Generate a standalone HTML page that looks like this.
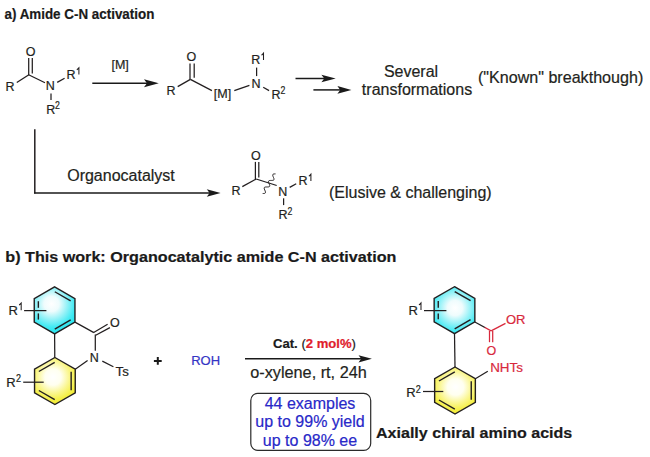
<!DOCTYPE html>
<html><head><meta charset="utf-8"><style>
html,body{margin:0;padding:0;background:#fff;width:650px;height:457px;overflow:hidden}
svg{display:block}
text{font-family:"Liberation Sans",sans-serif;stroke-width:0.2px;}
</style></head><body>
<svg width="650" height="457" viewBox="0 0 650 457">
<defs><radialGradient id="gc" gradientUnits="userSpaceOnUse" cx="51.5" cy="304" r="27"><stop offset="0" stop-color="#ffffff"/><stop offset="0.28" stop-color="#effcfd"/><stop offset="0.6" stop-color="#8ef1f7"/><stop offset="0.85" stop-color="#42eaf3"/><stop offset="1" stop-color="#2ee6f0"/></radialGradient><radialGradient id="gc2" gradientUnits="userSpaceOnUse" cx="455" cy="308" r="27"><stop offset="0" stop-color="#ffffff"/><stop offset="0.28" stop-color="#effcfd"/><stop offset="0.6" stop-color="#8ef1f7"/><stop offset="0.85" stop-color="#42eaf3"/><stop offset="1" stop-color="#2ee6f0"/></radialGradient><radialGradient id="gy" gradientUnits="userSpaceOnUse" cx="53" cy="377" r="27"><stop offset="0" stop-color="#ffffff"/><stop offset="0.3" stop-color="#fffff0"/><stop offset="0.6" stop-color="#faf68e"/><stop offset="0.85" stop-color="#f5f046"/><stop offset="1" stop-color="#f2eb34"/></radialGradient><radialGradient id="gy2" gradientUnits="userSpaceOnUse" cx="455.5" cy="387" r="27"><stop offset="0" stop-color="#ffffff"/><stop offset="0.3" stop-color="#fffff0"/><stop offset="0.6" stop-color="#faf68e"/><stop offset="0.85" stop-color="#f5f046"/><stop offset="1" stop-color="#f2eb34"/></radialGradient><linearGradient id="gbr" gradientUnits="userSpaceOnUse" x1="474.85" y1="321.95" x2="491.1" y2="330.9"><stop offset="0.55" stop-color="#231f20"/><stop offset="0.68" stop-color="#d8283c"/></linearGradient></defs>
<rect width="650" height="457" fill="#fff"/>
<text transform="translate(4.5,18.8) scale(0.893,1)" font-size="15" font-weight="bold" fill="#1a1a1a" stroke="#1a1a1a">a) Amide C-N activation</text>
<text x="30.7" y="55.8" font-size="12.5" text-anchor="middle" font-weight="normal" fill="#231f20" stroke="#231f20" >O</text>
<line x1="28.70" y1="58.00" x2="28.70" y2="75.00" stroke="#231f20" stroke-width="1.25"/>
<line x1="32.30" y1="58.00" x2="32.30" y2="73.60" stroke="#231f20" stroke-width="1.25"/>
<line x1="28.90" y1="74.70" x2="16.80" y2="82.60" stroke="#231f20" stroke-width="1.25"/>
<line x1="28.60" y1="74.70" x2="45.00" y2="82.70" stroke="#231f20" stroke-width="1.25"/>
<text x="5.6" y="90.9" font-size="12.5" text-anchor="start" font-weight="normal" fill="#231f20" stroke="#231f20" >R</text>
<text x="50.3" y="90.4" font-size="12.5" text-anchor="middle" font-weight="normal" fill="#231f20" stroke="#231f20" >N</text>
<line x1="57.20" y1="82.40" x2="64.60" y2="78.30" stroke="#231f20" stroke-width="1.25"/>
<text x="66.6" y="78.8" font-size="12.5" text-anchor="start" font-weight="normal" fill="#231f20" stroke="#231f20" >R</text>
<path d="M78.90,74.60 L78.90,67.80 L78.10,68.70 Q77.60,69.30 76.80,69.70" fill="none" stroke="#231f20" stroke-width="1.05"/>
<line x1="51.00" y1="93.60" x2="51.00" y2="99.90" stroke="#231f20" stroke-width="1.25"/>
<text x="46.2" y="113.9" font-size="12.5" text-anchor="start" font-weight="normal" fill="#231f20" stroke="#231f20" >R</text>
<text transform="translate(55.10,109.00) scale(0.84,1)" font-size="10.40" fill="#231f20" stroke="#231f20">2</text>
<text x="120.1" y="69.1" font-size="12.5" text-anchor="middle" font-weight="normal" fill="#231f20" stroke="#231f20" >[M]</text>
<line x1="92.3" y1="83.3" x2="147.96" y2="83.3" stroke="#1a1a1a" stroke-width="1.5"/>
<path d="M158.8,83.3 L144,79.30 L146.96,83.3 L144,87.30 Z" fill="#1a1a1a"/>
<text x="191.3" y="60.9" font-size="12.5" text-anchor="middle" font-weight="normal" fill="#231f20" stroke="#231f20" >O</text>
<line x1="190.00" y1="63.60" x2="190.00" y2="79.60" stroke="#231f20" stroke-width="1.25"/>
<line x1="194.20" y1="63.60" x2="194.20" y2="77.80" stroke="#231f20" stroke-width="1.25"/>
<line x1="190.40" y1="79.40" x2="177.70" y2="86.60" stroke="#231f20" stroke-width="1.25"/>
<line x1="190.40" y1="79.40" x2="211.90" y2="90.60" stroke="#231f20" stroke-width="1.25"/>
<text x="166.6" y="95.4" font-size="12.5" text-anchor="start" font-weight="normal" fill="#231f20" stroke="#231f20" >R</text>
<text x="222.5" y="97.9" font-size="12.5" text-anchor="middle" font-weight="normal" fill="#231f20" stroke="#231f20" >[M]</text>
<line x1="234.30" y1="90.60" x2="249.40" y2="85.30" stroke="#231f20" stroke-width="1.25"/>
<text x="255.9" y="88.1" font-size="12.5" text-anchor="middle" font-weight="normal" fill="#231f20" stroke="#231f20" >N</text>
<line x1="256.60" y1="67.60" x2="256.60" y2="76.10" stroke="#231f20" stroke-width="1.25"/>
<text x="251.2" y="64.2" font-size="12.5" text-anchor="start" font-weight="normal" fill="#231f20" stroke="#231f20" >R</text>
<path d="M263.50,60.00 L263.50,53.20 L262.70,54.10 Q262.20,54.70 261.40,55.10" fill="none" stroke="#231f20" stroke-width="1.05"/>
<line x1="263.20" y1="87.30" x2="269.10" y2="90.60" stroke="#231f20" stroke-width="1.25"/>
<text x="271.6" y="99.2" font-size="12.5" text-anchor="start" font-weight="normal" fill="#231f20" stroke="#231f20" >R</text>
<text transform="translate(280.50,94.30) scale(0.84,1)" font-size="10.40" fill="#231f20" stroke="#231f20">2</text>
<line x1="295.5" y1="78.5" x2="325.26" y2="78.5" stroke="#1a1a1a" stroke-width="1.5"/>
<path d="M335.7,78.5 L321.4,74.70 L324.26,78.5 L321.4,82.30 Z" fill="#1a1a1a"/>
<line x1="313.4" y1="89.9" x2="341.2" y2="89.9" stroke="#1a1a1a" stroke-width="1.5"/>
<path d="M351.4,89.9 L337.4,86.10 L340.20,89.9 L337.4,93.70 Z" fill="#1a1a1a"/>
<text x="411" y="76.6" font-size="16" text-anchor="middle" font-weight="normal" fill="#231f20" stroke="#231f20" >Several</text>
<text x="417" y="94.9" font-size="16" text-anchor="middle" font-weight="normal" fill="#231f20" stroke="#231f20" >transformations</text>
<text x="560.6" y="83.1" font-size="16.1" text-anchor="middle" font-weight="normal" fill="#231f20" stroke="#231f20" >("Known" breakthough)</text>
<line x1="34.80" y1="129.30" x2="34.80" y2="193.60" stroke="#231f20" stroke-width="1.5"/>
<line x1="34.05" y1="193" x2="210.56" y2="193" stroke="#1a1a1a" stroke-width="1.5"/>
<path d="M220.6,193 L206.8,189.20 L209.56,193 L206.8,196.80 Z" fill="#1a1a1a"/>
<text x="121.0" y="181.3" font-size="16" text-anchor="middle" font-weight="normal" fill="#231f20" stroke="#231f20" >Organocatalyst</text>
<text x="255.9" y="159.6" font-size="12.5" text-anchor="middle" font-weight="normal" fill="#231f20" stroke="#231f20" >O</text>
<line x1="255.40" y1="161.90" x2="255.40" y2="179.20" stroke="#231f20" stroke-width="1.25"/>
<line x1="258.80" y1="161.90" x2="258.80" y2="177.50" stroke="#231f20" stroke-width="1.25"/>
<line x1="256.20" y1="179.00" x2="242.30" y2="186.60" stroke="#231f20" stroke-width="1.25"/>
<line x1="256.20" y1="179.00" x2="276.70" y2="185.50" stroke="#231f20" stroke-width="1.25"/>
<polyline points="275.50,173.90 274.46,173.92 273.57,174.04 272.97,174.34 272.71,174.87 272.78,175.62 273.09,176.52 273.51,177.49 273.88,178.43 274.04,179.24 273.89,179.84 273.40,180.22 272.60,180.39 271.59,180.43 270.53,180.44 269.58,180.52 268.87,180.75 268.49,181.20 268.45,181.88 268.70,182.74 269.10,183.70 269.50,184.66 269.75,185.52 269.71,186.20 269.33,186.65 268.62,186.88 267.67,186.96 266.61,186.97 265.60,187.01 264.80,187.18 264.31,187.56 264.16,188.16 264.32,188.97 264.69,189.91 265.11,190.88 265.42,191.78 265.49,192.53 265.23,193.06 264.63,193.36 263.74,193.48 262.70,193.50" fill="none" stroke="#231f20" stroke-width="1"/>
<text x="231.5" y="194.9" font-size="12.5" text-anchor="start" font-weight="normal" fill="#231f20" stroke="#231f20" >R</text>
<text x="282.8" y="195.9" font-size="12.5" text-anchor="middle" font-weight="normal" fill="#231f20" stroke="#231f20" >N</text>
<line x1="289.70" y1="187.40" x2="296.20" y2="183.70" stroke="#231f20" stroke-width="1.25"/>
<text x="298.6" y="185.2" font-size="12.5" text-anchor="start" font-weight="normal" fill="#231f20" stroke="#231f20" >R</text>
<path d="M310.90,181.00 L310.90,174.20 L310.10,175.10 Q309.60,175.70 308.80,176.10" fill="none" stroke="#231f20" stroke-width="1.05"/>
<line x1="283.60" y1="198.30" x2="283.60" y2="205.10" stroke="#231f20" stroke-width="1.25"/>
<text x="278.6" y="219.1" font-size="12.5" text-anchor="start" font-weight="normal" fill="#231f20" stroke="#231f20" >R</text>
<text transform="translate(287.50,214.50) scale(0.84,1)" font-size="10.40" fill="#231f20" stroke="#231f20">2</text>
<text x="410.3" y="198.2" font-size="16" text-anchor="middle" font-weight="normal" fill="#231f20" stroke="#231f20" >(Elusive &amp; challenging)</text>
<text transform="translate(5.3,261.7) scale(1.063,1)" font-size="15.2" font-weight="bold" fill="#1a1a1a" stroke="#1a1a1a">b) This work: Organocatalytic amide C-N activation</text>
<path d="M54.60,286.90 L74.95,298.65 L74.95,322.15 L54.60,333.90 L34.25,322.15 L34.25,298.65 Z" fill="url(#gc)" stroke="#231f20" stroke-width="1.4" stroke-linejoin="miter"/>
<line x1="54.79" y1="291.74" x2="70.66" y2="300.91" stroke="#231f20" stroke-width="1.4"/>
<line x1="70.66" y1="319.89" x2="54.79" y2="329.06" stroke="#231f20" stroke-width="1.4"/>
<line x1="38.35" y1="301.23" x2="38.35" y2="307.80" stroke="#231f20" stroke-width="1.4"/>
<line x1="38.35" y1="313.40" x2="38.35" y2="319.56" stroke="#231f20" stroke-width="1.4"/>
<line x1="24.10" y1="310.60" x2="46.40" y2="310.60" stroke="#231f20" stroke-width="1.25"/>
<text x="8.4" y="314.8" font-size="13" text-anchor="start" font-weight="normal" fill="#231f20" stroke="#231f20" >R</text>
<path d="M21.19,310.13 L21.19,303.06 L20.39,303.96 Q19.89,304.56 19.09,304.96" fill="none" stroke="#231f20" stroke-width="1.05"/>
<line x1="74.95" y1="322.15" x2="93.90" y2="332.60" stroke="#231f20" stroke-width="1.25"/>
<line x1="93.70" y1="332.50" x2="107.60" y2="324.20" stroke="#231f20" stroke-width="1.25"/>
<line x1="95.70" y1="335.30" x2="109.90" y2="327.60" stroke="#231f20" stroke-width="1.25"/>
<text x="114.8" y="327.0" font-size="12.5" text-anchor="middle" font-weight="normal" fill="#231f20" stroke="#231f20" >O</text>
<line x1="95.30" y1="334.60" x2="95.30" y2="350.80" stroke="#231f20" stroke-width="1.25"/>
<text x="94.25" y="362.3" font-size="12.5" text-anchor="middle" font-weight="normal" fill="#231f20" stroke="#231f20" >N</text>
<line x1="102.30" y1="361.10" x2="113.40" y2="366.80" stroke="#231f20" stroke-width="1.25"/>
<text x="115.6" y="375.9" font-size="13.2" text-anchor="start" font-weight="normal" fill="#231f20" stroke="#231f20" >Ts</text>
<line x1="87.60" y1="360.40" x2="75.25" y2="369.25" stroke="#231f20" stroke-width="1.25"/>
<line x1="54.60" y1="333.90" x2="54.80" y2="357.50" stroke="#231f20" stroke-width="1.25"/>
<path d="M54.90,357.50 L75.25,369.25 L75.25,392.75 L54.90,404.50 L34.55,392.75 L34.55,369.25 Z" fill="url(#gy)" stroke="#231f20" stroke-width="1.4" stroke-linejoin="miter"/>
<line x1="38.84" y1="371.51" x2="54.71" y2="362.34" stroke="#231f20" stroke-width="1.4"/>
<line x1="71.15" y1="371.83" x2="71.15" y2="390.17" stroke="#231f20" stroke-width="1.4"/>
<line x1="54.71" y1="399.66" x2="38.84" y2="390.49" stroke="#231f20" stroke-width="1.4"/>
<line x1="23.20" y1="382.20" x2="43.70" y2="382.20" stroke="#231f20" stroke-width="1.25"/>
<text x="6.3" y="387.0" font-size="13" text-anchor="start" font-weight="normal" fill="#231f20" stroke="#231f20" >R</text>
<text transform="translate(15.88,381.90) scale(0.84,1)" font-size="10.82" fill="#231f20" stroke="#231f20">2</text>
<path d="M153.9,360.9 H161.7 M157.8,357 V364.8" stroke="#1a1a1a" stroke-width="2"/>
<text x="205.6" y="365" font-size="13" text-anchor="middle" font-weight="normal" fill="#3434c4" stroke="#3434c4" >ROH</text>
<line x1="245" y1="358.8" x2="362.18" y2="358.8" stroke="#1a1a1a" stroke-width="1.5"/>
<path d="M371.9,358.8 L358.5,355.20 L361.18,358.8 L358.5,362.40 Z" fill="#1a1a1a"/>
<text x="273.0" y="348.3" font-size="13.1" fill="#1a1a1a" stroke="#1a1a1a"><tspan font-weight="bold">Cat.</tspan> (<tspan font-weight="bold" fill="#e0202c" stroke="#e0202c">2 mol%</tspan>)</text>
<text x="308.5" y="377.6" font-size="16.25" text-anchor="middle" font-weight="normal" fill="#231f20" stroke="#231f20" >o-xylene, rt, 24h</text>
<rect x="250.8" y="393.4" width="119.9" height="57" rx="7" ry="7" fill="none" stroke="#2a2a2a" stroke-width="1.2"/>
<text x="310" y="408.7" font-size="16" text-anchor="middle" font-weight="normal" fill="#2828c8" stroke="#2828c8" >44 examples</text>
<text x="310" y="427" font-size="16" text-anchor="middle" font-weight="normal" fill="#2828c8" stroke="#2828c8" >up to 99% yield</text>
<text x="310" y="446.1" font-size="16" text-anchor="middle" font-weight="normal" fill="#2828c8" stroke="#2828c8" >up to 98% ee</text>
<path d="M454.50,286.70 L474.85,298.45 L474.85,321.95 L454.50,333.70 L434.15,321.95 L434.15,298.45 Z" fill="url(#gc2)" stroke="#231f20" stroke-width="1.4" stroke-linejoin="miter"/>
<line x1="454.69" y1="291.54" x2="470.56" y2="300.71" stroke="#231f20" stroke-width="1.4"/>
<line x1="470.56" y1="319.69" x2="454.69" y2="328.86" stroke="#231f20" stroke-width="1.4"/>
<line x1="438.25" y1="301.03" x2="438.25" y2="307.80" stroke="#231f20" stroke-width="1.4"/>
<line x1="438.25" y1="313.40" x2="438.25" y2="319.37" stroke="#231f20" stroke-width="1.4"/>
<line x1="424.00" y1="310.60" x2="446.40" y2="310.60" stroke="#231f20" stroke-width="1.25"/>
<text x="408.5" y="315.2" font-size="13" text-anchor="start" font-weight="normal" fill="#231f20" stroke="#231f20" >R</text>
<path d="M420.99,310.03 L420.99,302.96 L420.19,303.86 Q419.69,304.46 418.89,304.86" fill="none" stroke="#231f20" stroke-width="1.05"/>
<line x1="474.85" y1="321.95" x2="491.1" y2="330.9" stroke="url(#gbr)" stroke-width="1.25"/>
<line x1="489.50" y1="331.00" x2="489.50" y2="342.20" stroke="#d8283c" stroke-width="1.25"/>
<line x1="492.70" y1="331.00" x2="492.70" y2="342.20" stroke="#d8283c" stroke-width="1.25"/>
<text x="491.4" y="354.5" font-size="12.5" text-anchor="middle" font-weight="normal" fill="#d8283c" stroke="#d8283c" >O</text>
<line x1="491.10" y1="330.90" x2="505.50" y2="323.40" stroke="#d8283c" stroke-width="1.25"/>
<text x="506.0" y="323.7" font-size="13" text-anchor="start" font-weight="normal" fill="#d8283c" stroke="#d8283c" >OR</text>
<line x1="454.50" y1="333.70" x2="455.00" y2="367.00" stroke="#231f20" stroke-width="1.25"/>
<path d="M455.00,367.00 L475.35,378.75 L475.35,402.25 L455.00,414.00 L434.65,402.25 L434.65,378.75 Z" fill="url(#gy2)" stroke="#231f20" stroke-width="1.4" stroke-linejoin="miter"/>
<line x1="438.94" y1="381.01" x2="454.81" y2="371.84" stroke="#231f20" stroke-width="1.4"/>
<line x1="471.25" y1="381.33" x2="471.25" y2="399.67" stroke="#231f20" stroke-width="1.4"/>
<line x1="454.81" y1="409.16" x2="438.94" y2="399.99" stroke="#231f20" stroke-width="1.4"/>
<line x1="475.35" y1="378.75" x2="487.80" y2="371.20" stroke="#231f20" stroke-width="1.25"/>
<text x="490.2" y="371.8" font-size="13.4" text-anchor="start" font-weight="normal" fill="#d8283c" stroke="#d8283c" >NHTs</text>
<line x1="423.00" y1="391.50" x2="443.30" y2="391.50" stroke="#231f20" stroke-width="1.25"/>
<text x="406.2" y="396.8" font-size="13" text-anchor="start" font-weight="normal" fill="#231f20" stroke="#231f20" >R</text>
<text transform="translate(415.78,392.70) scale(0.84,1)" font-size="10.82" fill="#231f20" stroke="#231f20">2</text>
<text transform="translate(376.0,437.9) scale(1.057,1)" font-size="15.2" font-weight="bold" fill="#1a1a1a" stroke="#1a1a1a">Axially chiral amino acids</text>
</svg></body></html>
